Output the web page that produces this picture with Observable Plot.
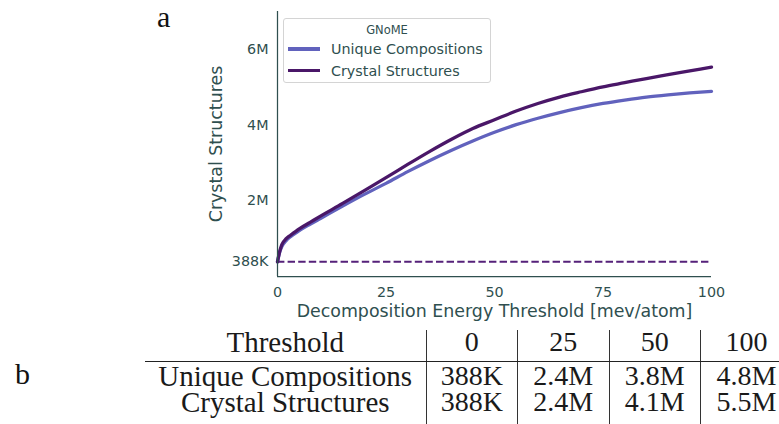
<!DOCTYPE html>
<html>
<head>
<meta charset="utf-8">
<script src="https://cdn.jsdelivr.net/npm/d3@7"></script>
<script src="https://cdn.jsdelivr.net/npm/@observablehq/plot@0.6"></script>
<style>
  html, body { margin: 0; padding: 0; background: #fff; }
  #figure { position: relative; width: 779px; height: 424px; overflow: hidden; background: #fff; }
  #chart { position: absolute; left: 0; top: 0; }
  .tag { position: absolute; font-family: "Liberation Serif", serif; font-size: 30px; line-height: 30px; color: #111; }
  #tag-a { left: 157px; top: 2px; }
  #tag-b { left: 15px; top: 359px; }
  #legend {
    position: absolute; left: 283px; top: 18px; width: 208px; height: 65px;
    border: 1px solid #d4d4d4; border-radius: 3px; background: rgba(255,255,255,0.85);
    font-family: "DejaVu Sans", sans-serif; color: #2f4f4f; box-sizing: border-box;
  }
  #legend .title { position: absolute; left: 0; right: 0; top: 4px; text-align: center; font-size: 11.5px; line-height: 14px; }
  #legend .item { position: absolute; left: 4px; height: 20px; display: flex; align-items: center; font-size: 14.3px; white-space: nowrap; }
  #legend .swatch { width: 32px; height: 3.2px; margin-right: 11px; }
  #summary {
    position: absolute; left: 145px; top: 330px; width: 647px; border-collapse: collapse; table-layout: fixed;
    font-family: "Liberation Serif", serif; font-size: 28px; color: #1a1a1a;
  }
  #summary th, #summary td { padding: 0; line-height: 24px; text-align: center; font-weight: normal; white-space: nowrap; }
  #summary th:first-child, #summary td:first-child { font-size: 29px; }
  #summary th { padding-bottom: 7px; border-bottom: 1px solid #222; }
  #summary td { padding-top: 2px; }
  #summary tr:last-child td { padding-bottom: 20px; }
  #summary th + th, #summary td + td { border-left: 1px solid #333; }
</style>
</head>
<body>
<div id="figure">
  <div id="chart"></div>
  <div class="tag" id="tag-a">a</div>
  <div class="tag" id="tag-b">b</div>
  <div id="legend"></div>
  <table id="summary"></table>
</div>
<script>
// Decomposition energy thresholds (meV/atom)
const thresholds = [0, 0.5, 1, 2, 3, 5, 7.5, 10, 15, 20, 25, 30, 35, 40, 45, 50, 55, 60, 65, 70, 75, 80, 85, 90, 95, 100];
// Cumulative counts, in millions
const uniqueCompositions = [0.388, 0.64, 0.79, 0.95, 1.05, 1.21, 1.38, 1.54, 1.86, 2.17, 2.46, 2.77, 3.06, 3.33, 3.58, 3.81, 4.01, 4.18, 4.33, 4.46, 4.57, 4.66, 4.74, 4.80, 4.85, 4.89];
const crystalStructures = [0.388, 0.66, 0.84, 1.00, 1.09, 1.26, 1.43, 1.60, 1.93, 2.27, 2.61, 2.96, 3.30, 3.62, 3.91, 4.14, 4.37, 4.57, 4.74, 4.88, 5.01, 5.12, 5.23, 5.33, 5.43, 5.53];
// Reference level marked by the dashed line (millions)
const stableBaseline = [0.388];

const seriesNames = ["Unique Compositions", "Crystal Structures"];
const seriesColors = ["#6162bd", "#4a1768"];
const baselineColor = "#55217a";
const legendTitle = "GNoME";

const xTickValues = [0, 25, 50, 75, 100];
const yTickValues = [0.388, 2, 4, 6];
const yTickLabels = ["388K", "2M", "4M", "6M"];
const xLabel = "Decomposition Energy Threshold [mev/atom]";
const yLabel = "Crystal Structures";

// Summary table
const tableHeader = ["Threshold", "0", "25", "50", "100"];
const tableRows = [
  ["Unique Compositions", "388K", "2.4M", "3.8M", "4.8M"],
  ["Crystal Structures", "388K", "2.4M", "4.1M", "5.5M"]
];

const ink = "#2f4f4f";

const rows = thresholds.map((t, i) => ({threshold: t, unique: uniqueCompositions[i], crystal: crystalStructures[i]}));

const chart = Plot.plot({
  width: 779,
  height: 320,
  marginLeft: 277,
  marginRight: 68,
  marginTop: 11,
  marginBottom: 44,
  style: {fontFamily: "'DejaVu Sans', sans-serif", fontSize: "14.3px", color: ink, background: "transparent", overflow: "visible"},
  x: {domain: [0, 100]},
  y: {domain: [0, 7]},
  marks: [
    Plot.ruleY(stableBaseline, {stroke: baselineColor, strokeWidth: 2, strokeDasharray: "7.4,3.2"}),
    Plot.line(rows, {x: "threshold", y: "unique", stroke: seriesColors[0], strokeWidth: 3.3, curve: "monotone-x"}),
    Plot.line(rows, {x: "threshold", y: "crystal", stroke: seriesColors[1], strokeWidth: 3.3, curve: "monotone-x"}),
    Plot.ruleX([0], {stroke: ink, strokeWidth: 1.25}),
    Plot.ruleY([0], {stroke: ink, strokeWidth: 1.25}),
    Plot.axisX({ticks: xTickValues, tickSize: 0, tickPadding: 10, label: null, fontSize: 14.3}),
    Plot.axisY({ticks: yTickValues, tickFormat: d => yTickLabels[yTickValues.indexOf(d)], tickSize: 0, tickPadding: 9, label: null, fontSize: 14.3}),
    Plot.text([xLabel], {text: d => d, frameAnchor: "bottom", textAnchor: "middle", lineAnchor: "middle", dy: 35, fontSize: 17.4, fill: ink}),
    Plot.text([yLabel], {text: d => d, frameAnchor: "left", textAnchor: "middle", lineAnchor: "middle", dx: -61, rotate: -90, fontSize: 17.4, fill: ink})
  ]
});
document.getElementById("chart").appendChild(chart);

// Legend
const legend = document.getElementById("legend");
const title = document.createElement("div");
title.className = "title";
title.textContent = legendTitle;
legend.appendChild(title);
seriesNames.forEach((name, i) => {
  const item = document.createElement("div");
  item.className = "item";
  item.style.top = (20 + i * 21.5) + "px";
  const sw = document.createElement("span");
  sw.className = "swatch";
  sw.style.background = seriesColors[i];
  const label = document.createElement("span");
  label.textContent = name;
  item.appendChild(sw);
  item.appendChild(label);
  legend.appendChild(item);
});

// Table
const table = document.getElementById("summary");
const colgroup = document.createElement("colgroup");
[281, 91.5, 91.5, 91.5, 91.5].forEach(w => {
  const c = document.createElement("col");
  c.style.width = w + "px";
  colgroup.appendChild(c);
});
table.appendChild(colgroup);
const head = document.createElement("tr");
tableHeader.forEach(h => {
  const th = document.createElement("th");
  th.textContent = h;
  head.appendChild(th);
});
table.appendChild(head);
tableRows.forEach(r => {
  const tr = document.createElement("tr");
  r.forEach(v => {
    const td = document.createElement("td");
    td.textContent = v;
    tr.appendChild(td);
  });
  table.appendChild(tr);
});
</script>
</body>
</html>
